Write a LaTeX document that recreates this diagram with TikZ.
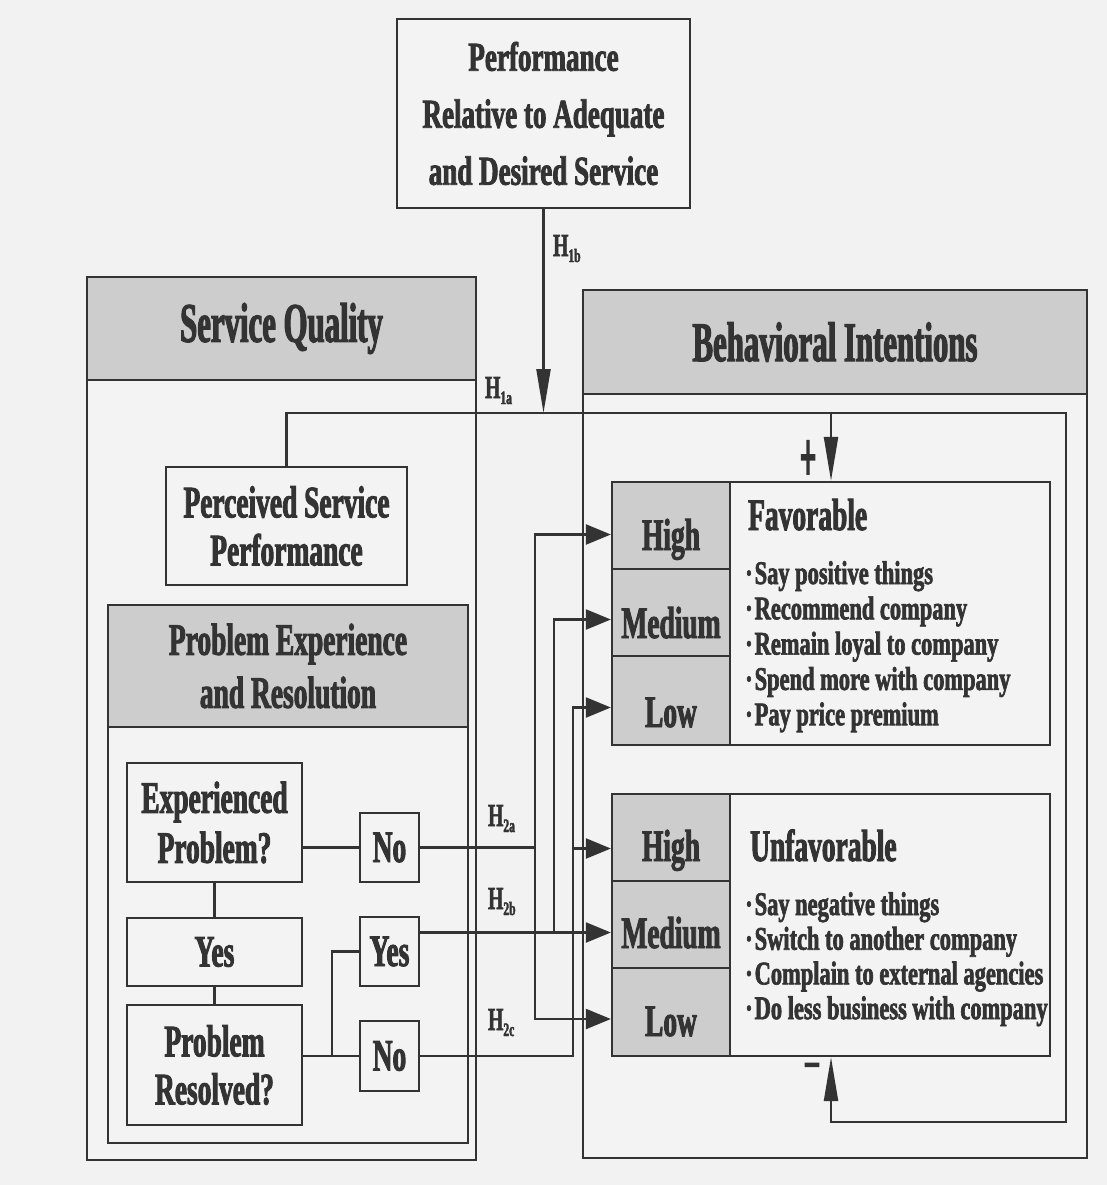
\documentclass[tikz,border=0pt]{standalone}
\usepackage{fontspec}
\setmainfont{Liberation Serif}[UprightFont={* Bold}, BoldFont={* Bold}, FakeStretch=0.61, FakeBold=2]
\newfontfamily\headfam{Liberation Serif}[UprightFont={* Bold}, BoldFont={* Bold}, FakeStretch=0.55, FakeBold=2]
\newfontfamily\titlefam{Liberation Serif}[UprightFont={* Bold}, BoldFont={* Bold}, FakeStretch=0.66, FakeBold=2]
\newfontfamily\listfam{Liberation Serif}[UprightFont={* Bold}, BoldFont={* Bold}, FakeStretch=0.68, FakeBold=2]
\usetikzlibrary{arrows.meta,calc}

\definecolor{ink}{HTML}{333333}
\definecolor{paper}{HTML}{F2F2F2}
\definecolor{boxfill}{HTML}{F3F3F3}
\definecolor{headfill}{HTML}{CDCDCD}

\newcommand\txtbody{\fontsize{45}{50}\selectfont}
\newcommand\headsize{\headfam\fontsize{56}{60}\selectfont}
\newcommand\titlesize{\titlefam\fontsize{41}{57}\selectfont}
\newcommand\listsize{\listfam\fontsize{33}{35}\selectfont}
\newcommand\hsub[1]{H\raisebox{-6pt}{\fontsize{19}{19}\selectfont#1}}

\begin{document}
\begin{tikzpicture}[x=1pt,y=-1pt,
  line/.style={draw=ink, line width=2.3pt},
  box/.style={line, fill=boxfill, inner sep=0pt, align=center, font=\txtbody},
  head/.style={box, fill=headfill},
  varr/.style={line, -{Triangle[length=44pt,width=14pt]}},
  harr/.style={line, -{Triangle[length=25pt,width=20pt]}},
  wire/.style={line},
  hl/.style={anchor=base west, inner sep=0pt, text=ink, font=\fontsize{32}{32}\selectfont},
  rowlab/.style={anchor=base, inner sep=0pt, text=ink, font=\txtbody},
  item/.style={anchor=base west, inner sep=0pt, text=ink, font=\listsize}]

\fill[paper] (0,0) rectangle (1107,1185);
\useasboundingbox (0,0) rectangle (1107,1185);

% top driver
\node[box, text=ink, minimum width=293pt, minimum height=189pt, font=\titlesize] (perf) at (543.5,113.5)
  {Performance\\Relative to Adequate\\and Desired Service};

% behavioral intentions panel
\node[box, minimum width=504pt, minimum height=868pt] (bi) at (835,724) {};
\node[head, text=ink, minimum width=504pt, minimum height=104pt, font=\headsize] (bihead) at (835,342) {Behavioral Intentions};

% service quality panel
\node[box, minimum width=389pt, minimum height=883pt] (sq) at (281.5,718.5) {};
\node[head, text=ink, minimum width=389pt, minimum height=103pt, font=\headsize] (sqhead) at (281.5,328.5) {Service Quality};

\node[box, text=ink, minimum width=241pt, minimum height=118pt, font=\fontsize{45}{48}\selectfont] (psp) at (286.5,526)
  {Perceived Service\\Performance};

\node[box, minimum width=360pt, minimum height=538pt] (pe) at (288,874) {};
\node[head, text=ink, minimum width=360pt, minimum height=122pt, font=\fontsize{45}{53}\selectfont] (pehead) at (288,666)
  {Problem Experience\\and Resolution};

\node[box, text=ink, minimum width=175pt, minimum height=119pt] (exp) at (214.5,822.5) {Experienced\\Problem?};
\node[box, text=ink, minimum width=175pt, minimum height=68pt] (yesL) at (214.5,952) {Yes};
\node[box, text=ink, minimum width=175pt, minimum height=120pt, font=\fontsize{45}{48}\selectfont] (res) at (214.5,1065) {Problem\\Resolved?};

\node[box, text=ink, minimum width=59pt, minimum height=69pt] (noA) at (389.5,847.5) {No};
\node[box, text=ink, minimum width=59pt, minimum height=69pt] (yesR) at (389.5,951.5) {Yes};
\node[box, text=ink, minimum width=59pt, minimum height=70pt] (noC) at (389.5,1056) {No};

% favorable outcome block
\node[box, minimum width=438pt, minimum height=263pt] (fav) at (831,613.5) {};
\node[head, minimum width=118pt, minimum height=87pt] (fHc) at (671,525.5) {};
\node[head, minimum width=118pt, minimum height=87pt] (fMc) at (671,612.5) {};
\node[head, minimum width=118pt, minimum height=89pt] (fLc) at (671,700.5) {};
\node[rowlab] (fH) at (671,550) {High};
\node[rowlab] (fM) at (671,638) {Medium};
\node[rowlab] (fL) at (671,727) {Low};
\node[rowlab, anchor=base west] (favt) at (748,530) {Favorable};
\foreach \t [count=\i] in {Say positive things, Recommend company, Remain loyal to company, Spend more with company, Pay price premium}
  \node[item] (fb\i) at (745,{584+35.3*(\i-1)}) {·\hspace{2pt}\t};

% unfavorable outcome block
\node[box, minimum width=438pt, minimum height=262pt] (unf) at (831,925) {};
\node[head, minimum width=118pt, minimum height=87pt] (uHc) at (671,837.5) {};
\node[head, minimum width=118pt, minimum height=87pt] (uMc) at (671,924.5) {};
\node[head, minimum width=118pt, minimum height=88pt] (uLc) at (671,1012) {};
\node[rowlab] (uH) at (671,861) {High};
\node[rowlab] (uM) at (671,948) {Medium};
\node[rowlab] (uL) at (671,1036) {Low};
\node[rowlab, anchor=base west] (unft) at (750,861) {Unfavorable};
\foreach \t [count=\i] in {Say negative things, Switch to another company, Complain to external agencies, Do less business with company}
  \node[item] (ub\i) at (745,{915+34.7*(\i-1)}) {·\hspace{2pt}\t};

% arrow entry points on the level cells
\coordinate (tfH) at ($(fHc.west)+(0,9)$);
\coordinate (tfM) at ($(fMc.west)+(0,7)$);
\coordinate (tfL) at ($(fLc.west)+(0,7)$);
\coordinate (tuH) at ($(uHc.west)+(0,11)$);
\coordinate (tuM) at ($(uMc.west)+(0,8)$);
\coordinate (tuL) at ($(uLc.west)+(0,7)$);

% problem flow
\draw[wire] (exp.south) -- (yesL.north);
\draw[wire] (yesL.south) -- (res.north);
\draw[wire] (exp.east |- noA.west) -- (noA.west);
\draw[wire] (res.east |- noC.west) -- (noC.west);
\coordinate (rsplit) at (332,1056);
\draw[wire] (rsplit) |- (yesR.west);

% H2a: no problem
\coordinate (ja) at (535,847.5);
\draw[harr] (noA.east) -- (ja) |- (tfH);
\draw[harr] (ja) |- (tuL);
% H2b: problem resolved
\coordinate (jb) at (554,932.5);
\draw[harr] (yesR.east |- tuM) -- (tuM);
\draw[harr] (jb) |- (tfM);
% H2c: problem not resolved
\coordinate (jc) at (573,1056);
\draw[harr] (noC.east) -- (jc) |- (tfL);
\draw[harr] (jc |- tuH) -- (tuH);

% H1: service quality and performance feedback
\coordinate (fbNE) at (1066,413);
\coordinate (fbSE) at (1066,1122);
\draw[varr] (psp.north) |- (fbNE) -- (fbSE) -| (unf.south);
\draw[varr] (fav.north |- fbNE) -- (fav.north);
\draw[varr] (perf.south) -- (perf.south |- fbNE);

% hypothesis labels and signs
\node[hl] (h1b) at (553,256) {\hsub{1b}};
\node[hl] (h1a) at (485,398) {\hsub{1a}};
\node[hl] (h2a) at (488,826) {\hsub{2a}};
\node[hl] (h2b) at (488,909) {\hsub{2b}};
\node[hl] (h2c) at (488,1030) {\hsub{2c}};
\node[inner sep=0pt, text=ink, font=\headfam\fontsize{72}{72}\selectfont] (plus) at (808,461) {\scalebox{0.73}[1]{+}};
\node[inner sep=0pt, text=ink, font=\fontsize{48}{48}\selectfont] (minus) at (812,1072) {−};
\end{tikzpicture}
\end{document}
